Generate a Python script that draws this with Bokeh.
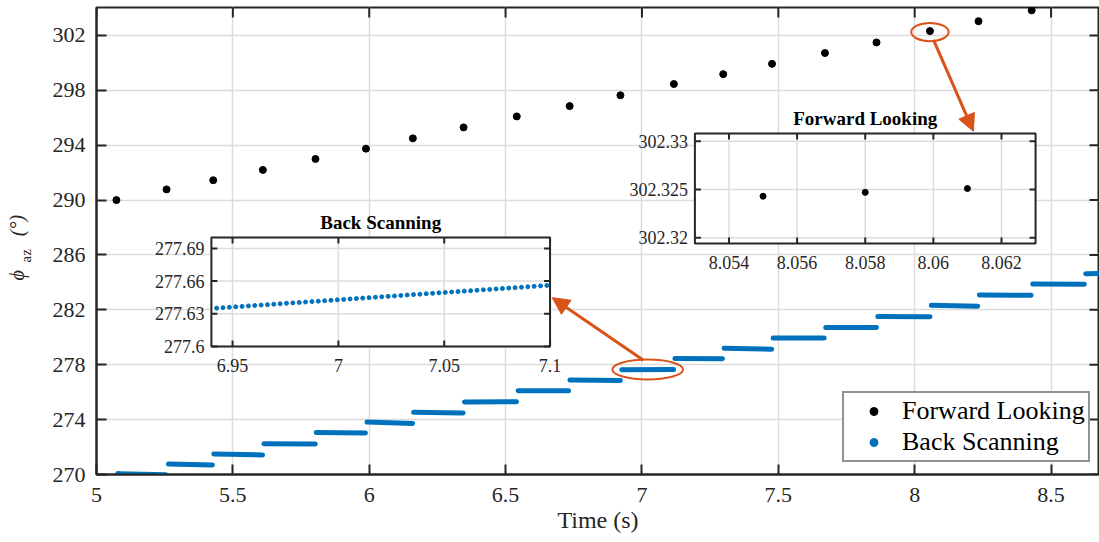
import math
from bokeh.plotting import figure
from bokeh.models import (Range1d, FixedTicker, CustomJSTickFormatter, Legend, LegendItem,
                          Title, Arrow, NormalHead)
from bokeh.core.properties import value
from bokeh.embed import file_html
from bokeh.resources import INLINE

# ---------------- data ----------------
fwd_time = [5.073, 5.257, 5.428, 5.610, 5.803, 5.988, 6.160, 6.346, 6.541, 6.735,
            6.921, 7.117, 7.298, 7.477, 7.671, 7.860, 8.056, 8.234, 8.429]
fwd_phi = [290.00, 290.78, 291.45, 292.20, 293.00, 293.75, 294.50, 295.30, 296.10, 296.85,
           297.64, 298.46, 299.18, 299.93, 300.72, 301.49, 302.32, 303.04, 303.83]

back_t_start = [5.079, 5.264, 5.430, 5.614, 5.806, 5.992, 6.163, 6.349, 6.546, 6.736,
                6.926, 7.121, 7.301, 7.481, 7.674, 7.865, 8.061, 8.237, 8.433, 8.627]
back_t_end = [5.255, 5.425, 5.609, 5.802, 5.986, 6.159, 6.344, 6.540, 6.731, 6.921,
              7.116, 7.295, 7.476, 7.668, 7.860, 8.056, 8.231, 8.427, 8.622, 8.700]
back_phi_start = [270.06, 270.76, 271.49, 272.25, 273.06, 273.82, 274.53, 275.29, 276.10, 276.89,
                  277.64, 278.45, 279.20, 279.95, 280.72, 281.51, 282.33, 283.08, 283.88, 284.64]
back_phi_end = [269.98, 270.70, 271.43, 272.22, 273.02, 273.72, 274.48, 275.30, 276.11, 276.86,
                277.66, 278.43, 279.13, 279.94, 280.71, 281.50, 282.26, 283.07, 283.87, 284.66]

zoom_back_time = [6.9425, 6.9455, 6.9485, 6.9515, 6.9545, 6.9575, 6.9605, 6.9635, 6.9665, 6.9695,
                  6.9725, 6.9755, 6.9785, 6.9815, 6.9845, 6.9875, 6.9905, 6.9935, 6.9965, 6.9995,
                  7.0025, 7.0055, 7.0085, 7.0115, 7.0145, 7.0175, 7.0205, 7.0235, 7.0265, 7.0295,
                  7.0325, 7.0355, 7.0385, 7.0415, 7.0445, 7.0475, 7.0505, 7.0535, 7.0565, 7.0595,
                  7.0625, 7.0655, 7.0685, 7.0715, 7.0745, 7.0775, 7.0805, 7.0835, 7.0865, 7.0895,
                  7.0925, 7.0955, 7.0985]
zoom_back_phi = [277.6352, 277.6356, 277.6360, 277.6364, 277.6368, 277.6372, 277.6376, 277.6380, 277.6384, 277.6388,
                 277.6392, 277.6396, 277.6400, 277.6404, 277.6408, 277.6412, 277.6416, 277.6420, 277.6424, 277.6428,
                 277.6432, 277.6436, 277.6440, 277.6444, 277.6448, 277.6452, 277.6456, 277.6460, 277.6464, 277.6468,
                 277.6472, 277.6476, 277.6480, 277.6484, 277.6488, 277.6492, 277.6496, 277.6500, 277.6504, 277.6508,
                 277.6512, 277.6516, 277.6520, 277.6524, 277.6528, 277.6532, 277.6536, 277.6540, 277.6544, 277.6548,
                 277.6552, 277.6556, 277.6560]

zoom_fwd_time = [8.055, 8.058, 8.061]
zoom_fwd_phi = [302.3243, 302.3247, 302.3251]

x_ticks = [5, 5.5, 6, 6.5, 7, 7.5, 8, 8.5]
y_ticks = [270, 274, 278, 282, 286, 290, 294, 298, 302]
zb_x_ticks = [6.95, 7, 7.05, 7.1]
zb_x_labels = ["6.95", "7", "7.05", "7.1"]
zb_y_ticks = [277.6, 277.63, 277.66, 277.69]
zb_y_labels = ["277.6", "277.63", "277.66", "277.69"]
zf_x_ticks = [8.054, 8.056, 8.058, 8.06, 8.062]
zf_x_labels = ["8.054", "8.056", "8.058", "8.06", "8.062"]
zf_y_ticks = [302.32, 302.325, 302.33]
zf_y_labels = ["302.32", "302.325", "302.33"]

series_names = ["Forward Looking", "Back Scanning"]
inset_titles = ["Back Scanning", "Forward Looking"]
x_label = "Time (s)"
y_label_main = "ϕ\u2003\u2002\u2009(°)"
y_label_sub = "az"

# ---------------- layout / style ----------------
BLUE = "#0072BD"
ORANGE = "#D95319"
DARK = "#262626"
GRID = "#dcdcdc"
FONT = "Liberation Serif"

W, H = 1099, 542
FRAME_L, FRAME_T, FRAME_B, FRAME_R = 95, 7, 474, 1099
FW, FH = FRAME_R - FRAME_L, FRAME_B - FRAME_T
PX_X = 273.0            # px per second
PX_Y = 13.72            # px per degree
X0, Y0 = 5.0, 270.0
X1 = X0 + FW / PX_X
Y1 = Y0 + FH / PX_Y

p = figure(width=W, height=H, x_range=Range1d(X0, X1), y_range=Range1d(Y0, Y1),
           output_backend="svg", toolbar_location=None, title=None,
           min_border_left=FRAME_L, min_border_right=W - FRAME_R, min_border_top=FRAME_T,
           min_border_bottom=H - FRAME_B)
p.background_fill_color = "white"
p.border_fill_color = "white"
p.outline_line_color = DARK
p.outline_line_width = 2

for ax, ticks, standoff in ((p.xaxis[0], x_ticks, 13), (p.yaxis[0], y_ticks, 11)):
    ax.ticker = FixedTicker(ticks=ticks)
    ax.formatter = CustomJSTickFormatter(code="return String(tick);")
    ax.axis_line_color = DARK
    ax.axis_line_width = 2
    ax.major_tick_line_color = DARK
    ax.major_tick_line_width = 2
    ax.major_tick_in = 10
    ax.major_tick_out = 0
    ax.minor_tick_line_color = None
    ax.major_label_text_font = FONT
    ax.major_label_text_color = DARK
    ax.major_label_text_font_size = "22px"
    ax.major_label_standoff = standoff
p.yaxis[0].axis_label = None
p.xaxis[0].axis_label = x_label
p.xaxis[0].axis_label_text_font = FONT
p.xaxis[0].axis_label_text_font_size = "24px"
p.xaxis[0].axis_label_text_font_style = "normal"
p.xaxis[0].axis_label_text_color = DARK
p.xaxis[0].axis_label_standoff = 2

# y-axis label: subscript part nearer the axis, then phi (deg) overlapping it
p.add_layout(Title(text=y_label_sub, align="left", offset=FRAME_B - 262, standoff=31,
                   text_font=FONT, text_font_size="15px", text_font_style="normal",
                   text_color=DARK), "left")
p.add_layout(Title(text=y_label_main, align="left", offset=FRAME_B - 280, standoff=-55,
                   text_font=FONT, text_font_size="20px", text_font_style="italic",
                   text_color=DARK), "left")

p.xgrid.ticker = FixedTicker(ticks=x_ticks)
p.ygrid.ticker = FixedTicker(ticks=y_ticks)
for g in (p.xgrid, p.ygrid):
    g.grid_line_color = GRID
    g.grid_line_width = 1.5

# top and right ticks of the box
tl_y = 10 / PX_Y
tl_x = 10 / PX_X
p.segment(x0=x_ticks, y0=[Y1] * len(x_ticks), x1=x_ticks, y1=[Y1 - tl_y] * len(x_ticks),
          line_color=DARK, line_width=2)
p.segment(x0=[X1] * len(y_ticks), y0=y_ticks, x1=[X1 - tl_x] * len(y_ticks), y1=y_ticks,
          line_color=DARK, line_width=2)

# data
p.segment(x0=back_t_start, y0=back_phi_start, x1=back_t_end, y1=back_phi_end,
          line_color=BLUE, line_width=5, line_cap="round")
p.scatter(x=fwd_time, y=fwd_phi, size=7, color="black")

# legend markers (small, hidden under real marks)
r_lf = p.scatter(x=[fwd_time[0]], y=[fwd_phi[0]], size=4.5, color="black")
r_lb = p.scatter(x=[back_t_start[0]], y=[back_phi_start[0]], size=4.5, color=BLUE)


# ---------------- insets drawn through their own extra ranges ----------------
def add_inset(name, box, xr, yr, xt, xl, yt, yl, title, draw):
    bl, br, bt, bb = box
    l, r = bl - FRAME_L, br - FRAME_L
    b, t = FRAME_B - bb, FRAME_B - bt
    ux = (xr[1] - xr[0]) / (r - l)
    uy = (yr[1] - yr[0]) / (t - b)
    p.extra_x_ranges[name + "_x"] = Range1d(xr[0] - l * ux, xr[1] + (FW - r) * ux)
    p.extra_y_ranges[name + "_y"] = Range1d(yr[0] - b * uy, yr[1] + (FH - t) * uy)
    kw = dict(x_range_name=name + "_x", y_range_name=name + "_y")
    nx, ny = len(xt), len(yt)
    p.quad(left=[xr[0]], right=[xr[1]], bottom=[yr[0]], top=[yr[1]],
           fill_color="white", line_color=None, **kw)
    p.segment(x0=xt, y0=[yr[0]] * nx, x1=xt, y1=[yr[1]] * nx, line_color=GRID, line_width=1.5, **kw)
    p.segment(x0=[xr[0]] * ny, y0=yt, x1=[xr[1]] * ny, y1=yt, line_color=GRID, line_width=1.5, **kw)
    draw(kw)
    tk = 6
    p.segment(x0=xt, y0=[yr[0]] * nx, x1=xt, y1=[yr[0] + tk * uy] * nx, line_color=DARK, line_width=2, **kw)
    p.segment(x0=xt, y0=[yr[1]] * nx, x1=xt, y1=[yr[1] - tk * uy] * nx, line_color=DARK, line_width=2, **kw)
    p.segment(x0=[xr[0]] * ny, y0=yt, x1=[xr[0] + tk * ux] * ny, y1=yt, line_color=DARK, line_width=2, **kw)
    p.segment(x0=[xr[1]] * ny, y0=yt, x1=[xr[1] - tk * ux] * ny, y1=yt, line_color=DARK, line_width=2, **kw)
    p.quad(left=[xr[0]], right=[xr[1]], bottom=[yr[0]], top=[yr[1]],
           fill_color=None, line_color=DARK, line_width=2, **kw)
    p.text(x=xt, y=[yr[0]] * nx, text=xl, text_font=value(FONT), text_font_size="18px",
           text_color=DARK, text_align="center", text_baseline="top", y_offset=12, **kw)
    p.text(x=[xr[0]] * ny, y=yt, text=yl, text_font=value(FONT), text_font_size="18px",
           text_color=DARK, text_align="right", text_baseline="middle", x_offset=-7, **kw)
    p.text(x=[(xr[0] + xr[1]) / 2], y=[yr[1]], text=[title], text_font=value(FONT),
           text_font_size="19px", text_font_style="bold", text_color="black",
           text_align="center", text_baseline="alphabetic", y_offset=-15, **kw)


def draw_back(kw):
    p.scatter(x=zoom_back_time, y=zoom_back_phi, size=4, color=BLUE, **kw)


def draw_fwd(kw):
    p.scatter(x=zoom_fwd_time, y=zoom_fwd_phi, size=6, color="black", **kw)


add_inset("zb", (210, 549, 237, 346), (6.94, 7.1), (277.6, 277.7),
          zb_x_ticks, zb_x_labels, zb_y_ticks, zb_y_labels, inset_titles[0], draw_back)
add_inset("zf", (694, 1035, 133, 243), (8.053, 8.063), (302.3194, 302.3308),
          zf_x_ticks, zf_x_labels, zf_y_ticks, zf_y_labels, inset_titles[1], draw_fwd)

# ---------------- highlight ellipses and arrows ----------------
seg_i = 10
p.ellipse(x=[(back_t_start[seg_i] + back_t_end[seg_i]) / 2],
          y=[(back_phi_start[seg_i] + back_phi_end[seg_i]) / 2],
          width=0.259, height=1.45, fill_color=None, line_color=ORANGE, line_width=2)
fwd_i = 16
p.ellipse(x=[fwd_time[fwd_i]], y=[fwd_phi[fwd_i] - 0.07], width=0.137, height=1.33,
          fill_color=None, line_color=ORANGE, line_width=2)
p.add_layout(Arrow(end=NormalHead(size=17, fill_color=ORANGE, line_color=ORANGE, line_width=1),
                   x_start=7.0055, y_start=278.33, x_end=6.671, y_end=282.89,
                   line_color=ORANGE, line_width=3))
p.add_layout(Arrow(end=NormalHead(size=17, fill_color=ORANGE, line_color=ORANGE, line_width=1),
                   x_start=8.069, y_start=301.68, x_end=8.2154, y_end=295.01,
                   line_color=ORANGE, line_width=3))

# ---------------- legend ----------------
legend = Legend(items=[LegendItem(label=series_names[0], renderers=[r_lf]),
                       LegendItem(label=series_names[1], renderers=[r_lb])],
                location=(841 - FRAME_L, FRAME_B - 462), padding=3, spacing=1, glyph_width=53,
                glyph_height=20, label_standoff=2, margin=0,
                label_text_font=FONT, label_text_font_size="26px", label_text_color="black",
                border_line_color=DARK, border_line_width=2,
                background_fill_color="white", background_fill_alpha=1)
p.add_layout(legend)

open("out.html", "w").write(file_html(p, INLINE, title="chart"))
